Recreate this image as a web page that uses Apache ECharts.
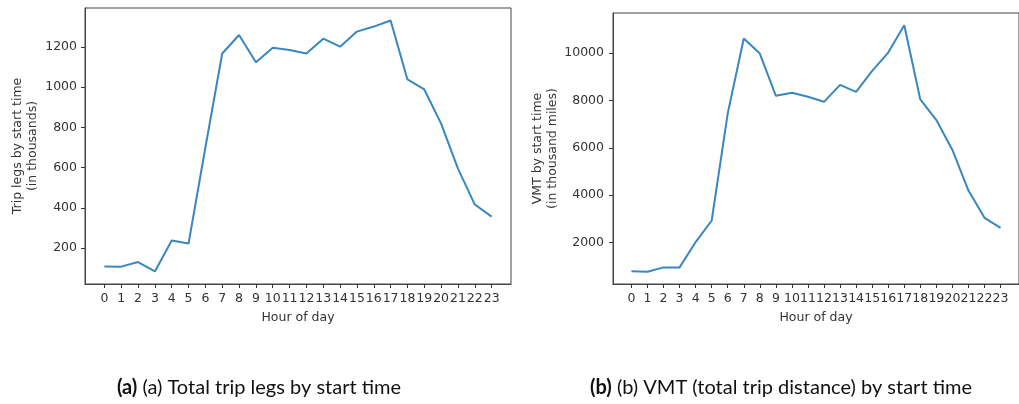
<!DOCTYPE html>
<html>
<head>
<meta charset="utf-8">
<script src="https://cdn.jsdelivr.net/npm/echarts@6/dist/echarts.min.js"></script>
<style>html,body{margin:0;padding:0;background:#fff;}#c{width:1019px;height:404px;}</style>
</head>
<body>
<div id="c"></div>
<script>
const hours = [0,1,2,3,4,5,6,7,8,9,10,11,12,13,14,15,16,17,18,19,20,21,22,23];
const tripLegs = [108,107,130,83,237,222,700,1168,1260,1124,1197,1185,1168,1242,1202,1277,1302,1332,1039,989,819,595,416,356];
const vmt = [776,763,945,945,2016,2927,7457,10620,9987,8199,8326,8157,7946,8663,8368,9254,10030,11181,8047,7174,5909,4192,3041,2619];
const tripTicks = [200,400,600,800,1000,1200];
const vmtTicks = [2000,4000,6000,8000,10000];
const xName = 'Hour of day';
const yNameA = 'Trip legs by start time\n(in thousands)';
const yNameB = 'VMT by start time\n(in thousand miles)';
const captionA = ['(a)', '(a) Total trip legs by start time'];
const captionB = ['(b)', '(b) VMT (total trip distance) by start time'];

function pad(arr){const mn=Math.min(...arr),mx=Math.max(...arr),m=(mx-mn)*0.05;return [mn-m,mx+m];}
const xr = [-1.15, 24.15];
const ra = pad(tripLegs), rb = pad(vmt);
const font = 'DejaVu Sans';
const fs = 12.5;
const txt = '#333';
function xAxis(gi){return {type:'value',gridIndex:gi,min:xr[0],max:xr[1],
  name:xName,nameLocation:'middle',nameGap:27,nameTextStyle:{fontFamily:font,fontSize:fs,color:txt},
  axisLine:{show:true,onZero:false,lineStyle:{color:'#444',width:1}},splitLine:{show:false},
  axisTick:{show:true,length:4,customValues:hours,lineStyle:{color:'#333'}},
  axisLabel:{customValues:hours,margin:8,fontFamily:font,fontSize:fs,color:txt,formatter:v=>String(v)}};}
function yAxis(gi,r,ticks,name,gap,lm){return {type:'value',gridIndex:gi,min:r[0],max:r[1],
  name:name,nameLocation:'middle',nameRotate:90,nameGap:gap,
  nameTextStyle:{fontFamily:font,fontSize:fs,color:txt,lineHeight:15,align:'center'},
  axisLine:{show:true,onZero:false,lineStyle:{color:'#444',width:1}},splitLine:{show:false},
  axisTick:{show:true,length:4,customValues:ticks,lineStyle:{color:'#333'}},
  axisLabel:{customValues:ticks,margin:lm,fontFamily:font,fontSize:fs,color:txt,formatter:v=>String(v)}};}

const chart = echarts.init(document.getElementById('c'), null, {renderer:'canvas'});
const capStyle = {fontFamily:'Lato',fontSize:20,fill:'#111',align:'center',verticalAlign:'middle'};
chart.setOption({
  animation:false,
  backgroundColor:'#fff',
  grid:[
    {left:85,top:8,width:426,height:276,show:true,borderColor:'#444',borderWidth:1,backgroundColor:'transparent'},
    {left:613,top:13,width:417,height:271,show:true,borderColor:'#444',borderWidth:1,backgroundColor:'transparent'}
  ],
  xAxis:[xAxis(0),xAxis(1)],
  yAxis:[yAxis(0,ra,tripTicks,yNameA,45,8),yAxis(1,rb,vmtTicks,yNameB,45,9)],
  series:[
    {type:'line',xAxisIndex:0,yAxisIndex:0,data:hours.map((h,i)=>[h,tripLegs[i]]),showSymbol:false,lineStyle:{color:'#3a87c0',width:2},clip:false},
    {type:'line',xAxisIndex:1,yAxisIndex:1,data:hours.map((h,i)=>[h,vmt[i]]),showSymbol:false,lineStyle:{color:'#3a87c0',width:2},clip:false}
  ],
  graphic:[
    {type:'text',x:259,y:388,style:Object.assign({text:'{b|'+captionA[0]+'} '+captionA[1],rich:{b:{fontWeight:'bold',fontFamily:'Lato',fontSize:20,fill:'#111'}}},capStyle)},
    {type:'text',x:781,y:388,style:Object.assign({text:'{b|'+captionB[0]+'} '+captionB[1],rich:{b:{fontWeight:'bold',fontFamily:'Lato',fontSize:20,fill:'#111'}}},capStyle)}
  ]
});
</script>
</body>
</html>
